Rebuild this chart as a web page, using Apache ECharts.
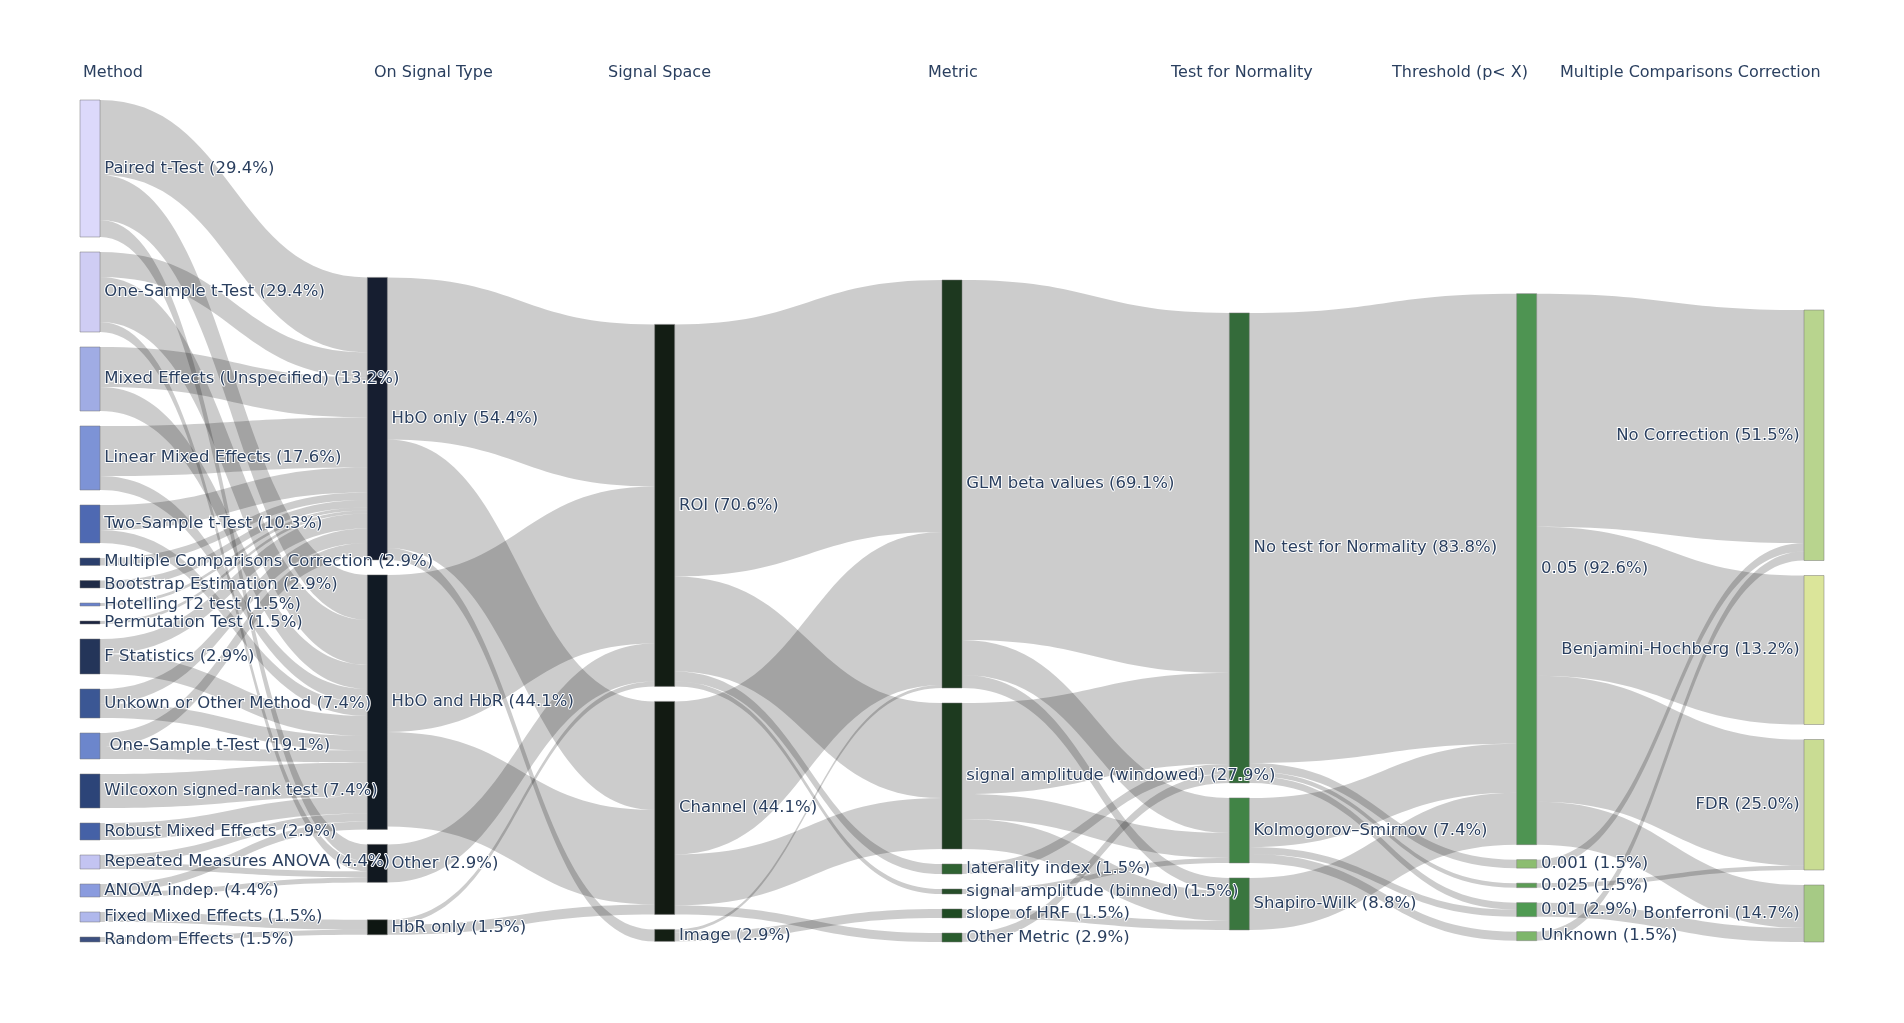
<!DOCTYPE html>
<html>
<head>
<meta charset="utf-8">
<script src="https://cdn.jsdelivr.net/npm/echarts/dist/echarts.min.js"></script>
<style>
html,body{margin:0;padding:0;background:#ffffff;}
#chart{width:1904px;height:1023px;}
</style>
</head>
<body>
<div id="chart"></div>
<script>
// ---------- data ----------
const columnTitles = ["Method", "On Signal Type", "Signal Space", "Metric", "Test for Normality", "Threshold (p< X)", "Multiple Comparisons Correction"];

const methods = [
  "Paired t-Test (29.4%)",
  "One-Sample t-Test (29.4%)",
  "Mixed Effects (Unspecified) (13.2%)",
  "Linear Mixed Effects (17.6%)",
  "Two-Sample t-Test (10.3%)",
  "Multiple Comparisons Correction (2.9%)",
  "Bootstrap Estimation (2.9%)",
  "Hotelling T2 test (1.5%)",
  "Permutation Test (1.5%)",
  "F Statistics (2.9%)",
  "Unkown or Other Method (7.4%)",
  " One-Sample t-Test (19.1%)",
  "Wilcoxon signed-rank test (7.4%)",
  "Robust Mixed Effects (2.9%)",
  "Repeated Measures ANOVA (4.4%)",
  "ANOVA indep. (4.4%)",
  "Fixed Mixed Effects (1.5%)",
  "Random Effects (1.5%)"
];
const signalTypes = ["HbO only (54.4%)", "HbO and HbR (44.1%)", "Other (2.9%)", "HbR only (1.5%)"];
const signalSpaces = ["ROI (70.6%)", "Channel (44.1%)", "Image (2.9%)"];
const metrics = ["GLM beta values (69.1%)", "signal amplitude (windowed) (27.9%)", "laterality index (1.5%)", "signal amplitude (binned) (1.5%)", "slope of HRF (1.5%)", "Other Metric (2.9%)"];
const normalityTests = ["No test for Normality (83.8%)", "Kolmogorov\u2013Smirnov (7.4%)", "Shapiro-Wilk (8.8%)"];
const thresholds = ["0.05 (92.6%)", "0.001 (1.5%)", "0.025 (1.5%)", "0.01 (2.9%)", "Unknown (1.5%)"];
const corrections = ["No Correction (51.5%)", "Benjamini-Hochberg (13.2%)", "FDR (25.0%)", "Bonferroni (14.7%)"];

// links: [source index, target index, value] between consecutive columns
const methodToSignal = [
  [0,0,75],[0,1,45],[0,2,17],
  [1,0,25],[1,1,45],[1,2,10],
  [2,0,40],[2,1,24],
  [3,0,50],[3,1,14],
  [4,0,25],[4,1,13],
  [5,0,7.5],[6,0,7.5],[7,0,3],[8,0,3],
  [9,0,15],[9,1,20],
  [10,0,14.5],[10,1,14.5],
  [11,0,14],[11,1,12],
  [12,1,34],
  [13,1,17],
  [14,1,8],[14,2,6],
  [15,1,8],[15,2,5],
  [16,3,10],[17,3,5]
];
const signalToSpace = [[0,0,162],[0,1,108.5],[0,2,12],[1,0,157],[1,1,94.5],[2,0,38],[3,0,5],[3,1,10]];
const spaceToMetric = [[0,0,252],[0,1,95],[0,2,10],[0,3,5],[1,0,153],[1,1,51],[1,5,9],[2,0,3],[2,4,9]];
const metricToNormality = [[0,0,360],[0,1,35],[0,2,13],[1,0,91],[1,1,25],[1,2,30],[2,0,10],[3,1,5],[5,0,9],[4,2,9]];
const normalityToThreshold = [[0,0,450],[0,1,8.5],[0,2,4.5],[0,3,7],[1,0,49],[1,3,7],[1,4,9],[2,0,52]];
const thresholdToCorrection = [[0,0,233],[0,1,149],[0,2,126],[0,3,43],[1,0,8.5],[2,2,4.5],[3,3,14],[4,0,9]];

// ---------- styles ----------
const methodColors = ["#dcd9fb","#cfcdf4","#a0ace4","#7d93d6","#4e69b2","#2b3f6c","#1f2b47","#6a82cc","#1c2540","#243559","#3b5794","#6c86cc","#2c4478","#4561a6","#c3c4f2","#8a9bde","#b0b8ec","#3d5080"];
const signalTypeColors = ["#161e30","#111a24","#111820","#0e1612"];
const signalSpaceColors = ["#131d14","#121a12","#141f14"];
const metricColors = ["#1d381f","#1d3a1f","#2f6232","#264d29","#1f4a23","#2a5c2e"];
const normalityColors = ["#346b3a","#418446","#3a763f"];
const thresholdColors = ["#4e9452","#8cbd70","#5c9c55","#4f9a52","#7db66a"];
const correctionColors = ["#b8d48e","#dbe59a","#c9dc93","#a6ca85"];

// ---------- build ----------
const columns = [methods, signalTypes, signalSpaces, metrics, normalityTests, thresholds, corrections];
const palette = [methodColors, signalTypeColors, signalSpaceColors, metricColors, normalityColors, thresholdColors, correctionColors];
const stages = [methodToSignal, signalToSpace, spaceToMetric, metricToNormality, normalityToThreshold, thresholdToCorrection];
const lastCol = columns.length - 1;

const nodes = [];
columns.forEach((col, ci) => {
  col.forEach((name, i) => {
    const n = { name: name, depth: ci, itemStyle: { color: palette[ci][i] } };
    if (ci === lastCol) n.label = { position: 'left' };
    nodes.push(n);
  });
});
const links = [];
stages.forEach((stage, si) => {
  stage.forEach(([s, t, v]) => {
    links.push({ source: columns[si][s], target: columns[si + 1][t], value: v });
  });
});

const titleX = [83, 374, 608, 928, 1171, 1392, 1560];
const chart = echarts.init(document.getElementById('chart'), null, { renderer: 'canvas' });
chart.setOption({
  backgroundColor: '#ffffff',
  animation: false,
  textStyle: { fontFamily: 'DejaVu Sans' },
  graphic: columnTitles.map((t, i) => ({
    type: 'text', left: titleX[i], top: 65,
    style: { text: t, font: '16px "DejaVu Sans"', fill: '#2a3f5f' }
  })),
  series: [{
    type: 'sankey',
    left: 80, right: 80, top: 100, bottom: 81,
    nodeWidth: 20,
    nodeGap: 15,
    layoutIterations: 32,
    draggable: false,
    emphasis: { disabled: true },
    data: nodes,
    links: links,
    itemStyle: { borderColor: '#777777', borderWidth: 0.5 },
    lineStyle: { color: '#000000', opacity: 0.2, curveness: 0.5 },
    label: {
      show: true, position: 'right', distance: 4,
      color: '#2a3f5f', fontSize: 16.5, fontFamily: 'DejaVu Sans',
      textBorderColor: '#ffffff', textBorderWidth: 2
    }
  }]
});
</script>
</body>
</html>
